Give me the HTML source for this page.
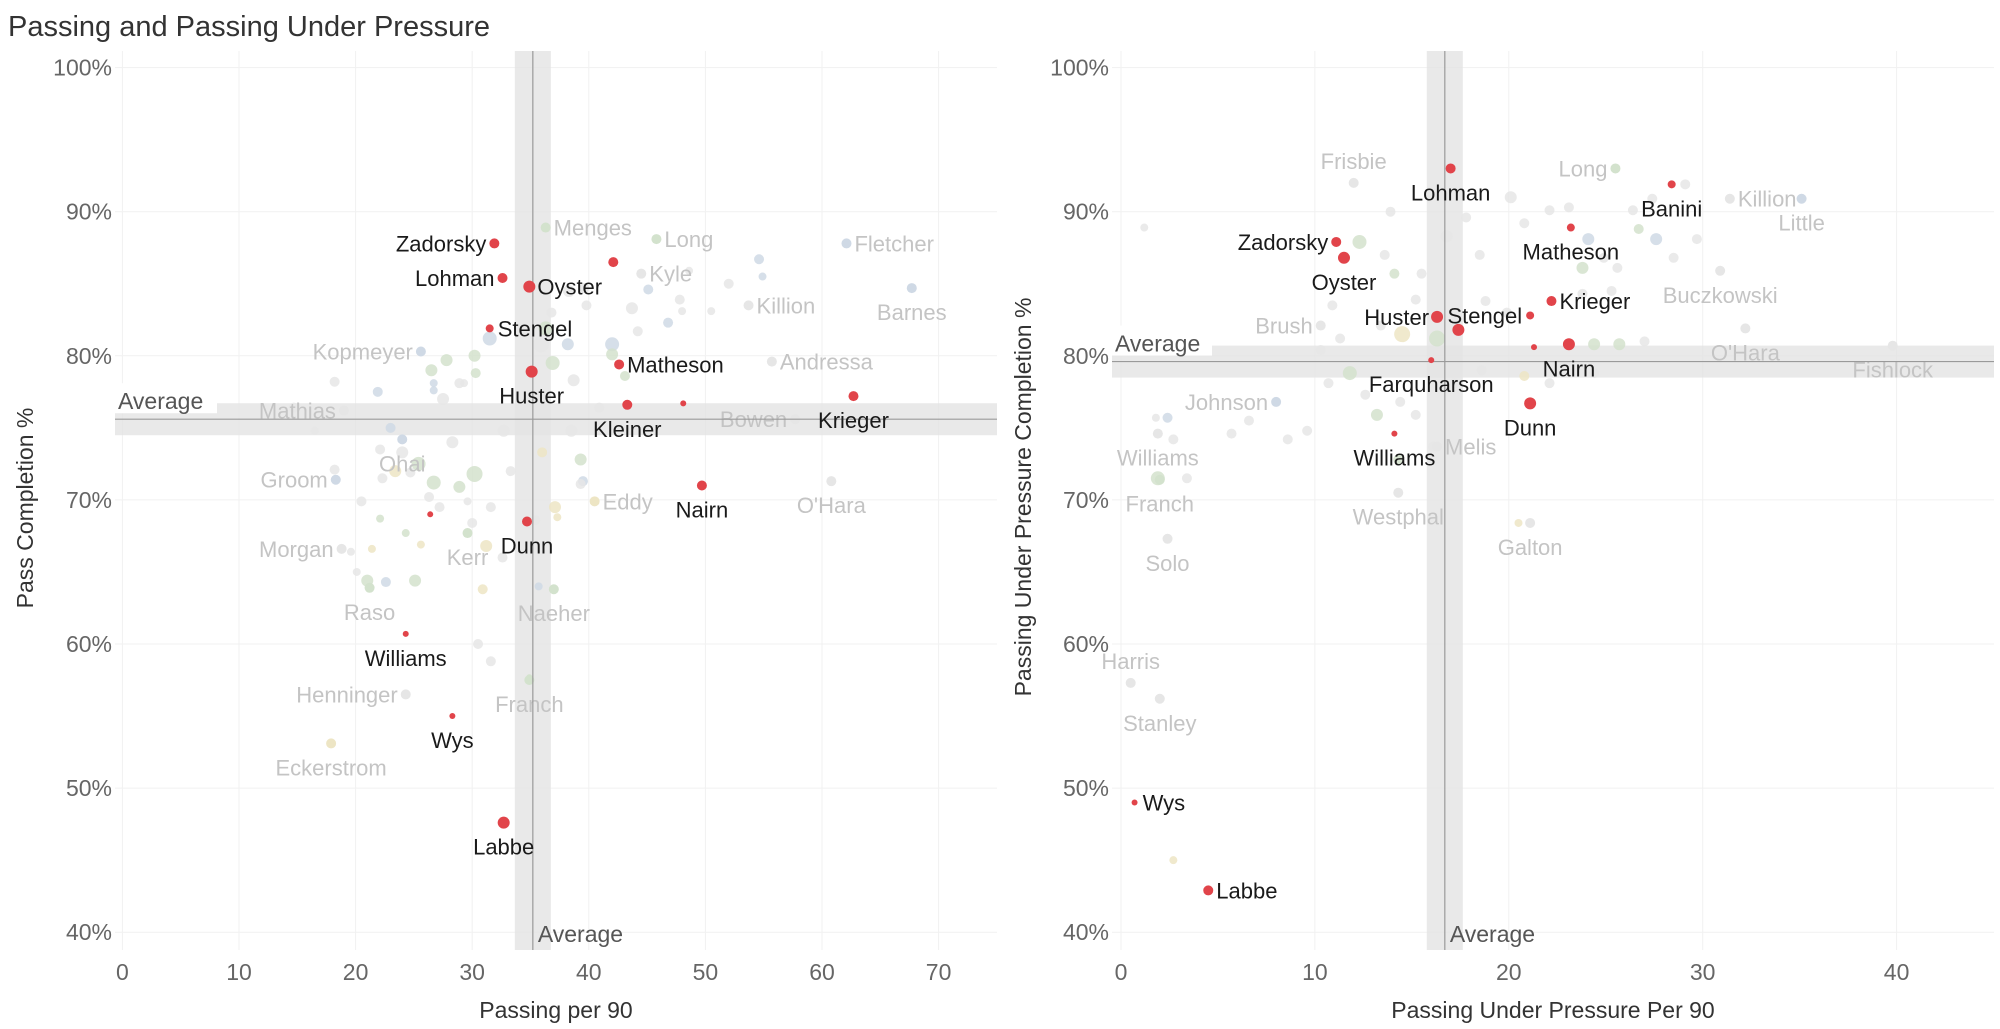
<!DOCTYPE html>
<html><head><meta charset="utf-8">
<style>
html,body{margin:0;padding:0;background:#fff;}
svg{display:block;font-family:"Liberation Sans",sans-serif;}
</style></head>
<body>
<svg id="chart" width="2000" height="1029" viewBox="0 0 2000 1029">
<text x="8" y="36" font-size="29" fill="#333">Passing and Passing Under Pressure</text>
</svg>
<script>
// ---------- LEFT PANEL DATA ----------
const leftXTicks = [0,10,20,30,40,50,60,70];
const yTicks = [40,50,60,70,80,90,100];
const leftAvgX = 35.2, leftAvgY = 75.6;
const leftRedNames = ["Zadorsky","Lohman","Oyster","Stengel","Huster","Matheson","","Kleiner","","Krieger","Nairn","Dunn","","Williams","Wys","Labbe"];
const leftRedX = [31.9,32.6,34.9,31.5,35.1,42.6,42.1,43.3,48.1,62.7,49.7,34.7,26.4,24.3,28.3,32.7];
const leftRedY = [87.8,85.4,84.8,81.9,78.9,79.4,86.5,76.6,76.7,77.2,71.0,68.5,69.0,60.7,55.0,47.6];
const leftRedS = [5,5,6,4,6,5,5,5,3,5,5,5,3,3,3,6];
const leftRedA = ["l","l","r","r","b","r","","b","","b","b","b","","b","b","b"];
const leftGreyNames = ["Menges","Long","Fletcher","Kyle","Killion","Barnes","Kopmeyer","Andressa","Mathias","Bowen","Ohai","Groom","Eddy","O'Hara","Morgan","Kerr","Raso","Naeher","Henninger","Franch","Eckerstrom"];
const leftGreyX = [36.3,45.8,62.1,44.5,53.7,67.7,25.6,55.7,19.0,57.7,24.0,18.3,40.5,60.8,18.8,29.6,21.2,37.0,24.3,34.9,17.9];
const leftGreyY = [88.9,88.1,87.8,85.7,83.5,84.7,80.3,79.6,76.2,75.6,74.2,71.4,69.9,71.3,66.6,67.7,63.9,63.8,56.5,57.5,53.1];
const leftGreyC = ["g","g","b","k","k","b","b","k","k","k","b","b","y","k","k","g","g","g","k","g","y"];
const leftGreyA = ["r","r","r","r","r","b","l","r","l","l","b","l","r","b","l","b","b","b","l","b","b"];
const leftBgX = [36.3,36.8,38.3,39.6,35.9,38.2,39.8,36.9,38.7,40.9,42.0,42.0,43.1,45.1,43.7,44.2,47.8,48.6,54.6,54.9,52.0,50.5,48.0,46.8,18.2,21.9,26.7,27.5,28.9,30.2,31.5,30.3,29.3,27.8,26.5,26.7,24.0,23.0,22.1,23.4,22.3,24.7,25.4,28.3,22.1,26.7,27.2,28.9,30.2,31.6,30.0,31.2,29.6,26.3,35.4,37.1,37.3,39.5,39.3,39.3,38.5,32.7,36.0,33.3,32.6,25.6,24.3,21.4,19.6,21.0,22.6,25.1,30.9,35.7,20.5,20.1,30.5,31.6,14.7,16.5,18.2,34.9];
const leftBgY = [81.9,83.0,84.5,84.7,80.8,80.8,83.5,79.5,78.3,76.4,80.8,80.1,78.6,84.6,83.3,81.7,83.9,85.9,86.7,85.5,85.0,83.1,83.1,82.3,78.2,77.5,77.6,77.0,78.1,80.0,81.2,78.8,78.1,79.7,79.0,78.1,73.3,75.0,73.5,72.0,71.5,71.9,72.5,74.0,68.7,71.2,69.5,70.9,71.8,69.5,68.4,66.8,69.9,70.2,68.6,69.5,68.8,71.3,72.8,71.1,74.8,74.8,73.3,72.0,66.0,66.9,67.7,66.6,66.4,64.4,64.3,64.4,63.8,64.0,69.9,65.0,60.0,58.8,76.4,74.8,72.1,57.7];
const leftBgC = ["g","k","k","k","k","b","k","g","k","k","b","g","g","b","k","k","k","k","b","b","k","k","k","b","k","b","b","k","k","g","b","g","k","g","g","b","k","b","k","y","k","k","g","k","g","g","k","g","g","k","k","y","k","k","k","y","y","b","g","k","k","k","y","k","k","y","g","y","k","g","b","g","y","b","k","k","k","k","k","k","k","g"];
const leftBgS = [7,5,6,5,8,6,5,7,6,5,7,6,5,5,6,5,5,4,5,4,5,4,4,5,5,5,4,6,5,6,7,5,4,6,6,4,6,5,5,6,5,5,7,6,4,7,5,6,8,5,5,6,4,5,5,6,4,5,6,5,6,6,5,5,5,4,4,4,4,6,5,6,5,4,5,4,5,5,5,4,5,3];

// ---------- RIGHT PANEL DATA ----------
const rightXTicks = [0,10,20,30,40];
const rightAvgX = 16.7, rightAvgY = 79.6;
const rightRedNames = ["Lohman","Banini","Zadorsky","Oyster","Matheson","Stengel","Krieger","Huster","","Nairn","Dunn","Farquharson","Williams","","Wys","Labbe"];
const rightRedX = [17.0,28.4,11.1,11.5,23.2,21.1,22.2,16.3,17.4,23.1,21.1,16.0,14.1,21.3,0.7,4.5];
const rightRedY = [93.0,91.9,87.9,86.8,88.9,82.8,83.8,82.7,81.8,80.8,76.7,79.7,74.6,80.6,49.0,42.9];
const rightRedS = [5,4,5,6,4,4,5,6,6,6,6,3,3,3,3,5];
const rightRedA = ["b","b","l","b","b","l","r","l","","b","b","b","b","","r","r"];
const rightGreyNames = ["Long","Frisbie","Killion","Little","Brush","Buczkowski","O'Hara","Fishlock","Johnson","Williams","Melis","Franch","Westphal","Galton","Solo","Harris","Stanley"];
const rightGreyX = [25.5,12.0,31.4,35.1,10.3,30.9,32.2,39.8,8.0,1.9,16.3,2.0,14.3,21.1,2.4,0.5,2.0];
const rightGreyY = [93.0,92.0,90.9,90.9,82.1,85.9,81.9,80.7,76.8,74.6,73.7,71.4,70.5,68.4,67.3,57.3,56.2];
const rightGreyC = ["g","k","k","b","k","k","k","k","b","k","k","g","k","k","k","k","k"];
const rightGreyA = ["l","a","r","b","l","b","b","b","l","b","r","b","b","b","b","a","b"];
const rightBgX = [12.3,13.9,13.6,14.1,15.2,15.5,16.8,17.8,18.5,20.1,20.8,22.1,23.1,24.1,23.8,24.9,25.6,26.7,27.6,28.5,29.7,27.4,29.1,23.8,25.3,18.8,19.9,16.3,14.5,13.4,10.9,11.3,11.8,10.3,10.7,12.6,13.2,14.4,15.2,17.2,18.6,20.8,22.1,24.4,25.7,27.0,24.4,8.6,9.6,6.6,5.7,2.7,2.4,1.8,1.9,3.4,20.5,14.3,16.1,26.4,1.2,2.7];
const rightBgY = [87.9,90.0,87.0,85.7,83.9,85.7,88.3,89.6,87.0,91.0,89.2,90.1,90.3,88.1,86.1,86.8,86.1,88.8,88.1,86.8,88.1,90.9,91.9,84.3,84.5,83.8,83.0,81.2,81.5,82.1,83.5,81.2,78.8,80.4,78.1,77.3,75.9,76.8,75.9,78.1,79.0,78.6,78.1,78.8,80.8,81.0,80.8,74.2,74.8,75.5,74.6,74.2,75.7,75.7,71.5,71.5,68.4,72.8,73.7,90.1,88.9,45.0];
const rightBgC = ["g","k","k","g","k","k","k","k","k","k","k","k","k","b","g","k","k","g","b","k","k","k","k","k","k","k","k","g","y","k","k","k","g","k","k","k","g","k","k","k","k","y","k","k","g","k","g","k","k","k","k","k","b","k","g","k","y","g","k","k","k","y"];
const rightBgS = [7,5,5,5,5,5,6,5,5,6,5,5,5,6,6,5,5,5,6,5,5,5,5,5,5,5,5,8,8,5,5,5,7,5,5,5,6,5,5,5,5,5,5,5,6,5,6,5,5,5,5,5,5,4,7,5,4,5,5,5,4,4];

// ---------- RENDER ----------
const NS = "http://www.w3.org/2000/svg";
const svg = document.getElementById("chart");
const COL = {g:"#d3e2cd", b:"#cfd9e5", y:"#ede5c4", k:"#e6e6e6"};
const RED = "#e1444a";
const yScale = p => 67.6 + (100 - p) * 14.41;
const TOP = 51, BOT = 950;

function mk(tag, attrs, parent){ const e=document.createElementNS(NS,tag); for(const k in attrs) e.setAttribute(k,attrs[k]); (parent||svg).appendChild(e); return e; }

function panel(cfg){
  const g = mk("g",{});
  
  
  const xs = cfg.xScale;
  // gridlines
  cfg.xTicks.forEach(t=>{
    const l = mk("line",{x1:xs(t),x2:xs(t),y1:TOP,y2:BOT,stroke:"#f1f1f1","stroke-width":1},g);
    
    
    const tx = mk("text",{x:xs(t),y:980,"text-anchor":"middle","font-size":23,fill:"#666"},g);
    tx.textContent = t;
    
    
  });
  yTicks.forEach(t=>{
    const l = mk("line",{x1:cfg.left,x2:cfg.right,y1:yScale(t),y2:yScale(t),stroke:"#f1f1f1","stroke-width":1},g);
    
    
    const tx = mk("text",{x:cfg.left-3,y:yScale(t)+8,"text-anchor":"end","font-size":23,fill:"#666"},g);
    tx.textContent = t + "%";
    
    
  });
  // average bands
  const ax = xs(cfg.avgX), ay = yScale(cfg.avgY);
  const vb = mk("rect",{x:ax-18,y:TOP,width:36,height:BOT-TOP,fill:"#e3e3e3","fill-opacity":0.8},g);
  
  
  const hb = mk("rect",{x:cfg.left,y:ay-16,width:cfg.right-cfg.left,height:32,fill:"#e3e3e3","fill-opacity":0.8},g);
  
  
  // background points
  cfg.bgX.forEach((v,i)=>{
    const c = mk("circle",{cx:xs(v),cy:yScale(cfg.bgY[i]),r:cfg.bgS[i],fill:COL[cfg.bgC[i]],"fill-opacity":0.85},g);
    
    
  });
  // grey labelled points
  cfg.greyX.forEach((v,i)=>{
    const px = xs(v), py = yScale(cfg.greyY[i]);
    const c = mk("circle",{cx:px,cy:py,r:5,fill:COL[cfg.greyC[i]]},g);
    
    
    label(g, px, py, cfg.greyNames[i], cfg.greyA[i], "#c4c4c4", 'player-label');
  });
  // lines
  const vl = mk("line",{x1:ax,x2:ax,y1:TOP,y2:BOT,stroke:"#9a9a9a","stroke-width":1.2},g);
  
  
  const hl = mk("line",{x1:cfg.left,x2:cfg.right,y1:ay,y2:ay,stroke:"#9a9a9a","stroke-width":1.2},g);
  
  
  // red points
  cfg.redX.forEach((v,i)=>{
    const px = xs(v), py = yScale(cfg.redY[i]);
    const c = mk("circle",{cx:px,cy:py,r:cfg.redS[i],fill:RED},g);
    
    
    if(cfg.redNames[i]) label(g, px, py, cfg.redNames[i], cfg.redA[i], "#1a1a1a", 'highlighted-player-label');
  });
  // average labels
  const bgr = mk("rect",{x:cfg.left,y:ay-36,width:cfg.avgLblW,height:30,fill:"#fff"},g);
  
  
  const a1 = mk("text",{x:cfg.left+3,y:ay-10,"font-size":23,fill:"#555"},g);
  a1.textContent = "Average";
  
  
  const a2 = mk("text",{x:ax+5,y:942,"font-size":23,fill:"#555"},g);
  a2.textContent = "Average";
  
  
  // axis titles
  const xt = mk("text",{x:cfg.xTitleX,y:1018,"text-anchor":"middle","font-size":23,fill:"#333"},g);
  xt.textContent = cfg.xTitle;
  
  
  const yt = mk("text",{x:0,y:0,"text-anchor":"middle","font-size":23,fill:"#333",transform:`translate(${cfg.yTitleX},${cfg.yTitleY}) rotate(-90)`},g);
  yt.textContent = cfg.yTitle;
  
  
}

function label(g, px, py, txt, a, fill, name){
  let x=px, y=py+8, anc="middle";
  if(a==="l"){ x=px-8; anc="end"; }
  else if(a==="r"){ x=px+8; anc="start"; }
  else if(a==="b"){ y=py+32; }
  else if(a==="a"){ y=py-14; }
  const t = mk("text",{x:x,y:y,"text-anchor":anc,"font-size":22,fill:fill},g);
  t.textContent = txt;
  
  
}

panel({id:"passing", xScale:v=>122.4+v*11.66, left:115, right:997, xTicks:leftXTicks,
  avgX:leftAvgX, avgY:leftAvgY, avgLblW:102,
  bgX:leftBgX,bgY:leftBgY,bgC:leftBgC,bgS:leftBgS,
  greyX:leftGreyX,greyY:leftGreyY,greyC:leftGreyC,greyA:leftGreyA,greyNames:leftGreyNames,
  redX:leftRedX,redY:leftRedY,redS:leftRedS,redA:leftRedA,redNames:leftRedNames,
  xTitle:"Passing per 90", xTitleX:556, yTitle:"Pass Completion %", yTitleX:33, yTitleY:508});
panel({id:"pressure", xScale:v=>1121+v*19.39, left:1112, right:1994, xTicks:rightXTicks,
  avgX:rightAvgX, avgY:rightAvgY, avgLblW:100,
  bgX:rightBgX,bgY:rightBgY,bgC:rightBgC,bgS:rightBgS,
  greyX:rightGreyX,greyY:rightGreyY,greyC:rightGreyC,greyA:rightGreyA,greyNames:rightGreyNames,
  redX:rightRedX,redY:rightRedY,redS:rightRedS,redA:rightRedA,redNames:rightRedNames,
  xTitle:"Passing Under Pressure Per 90", xTitleX:1553, yTitle:"Passing Under Pressure Completion %", yTitleX:1031, yTitleY:497});
</script>
</body></html>
